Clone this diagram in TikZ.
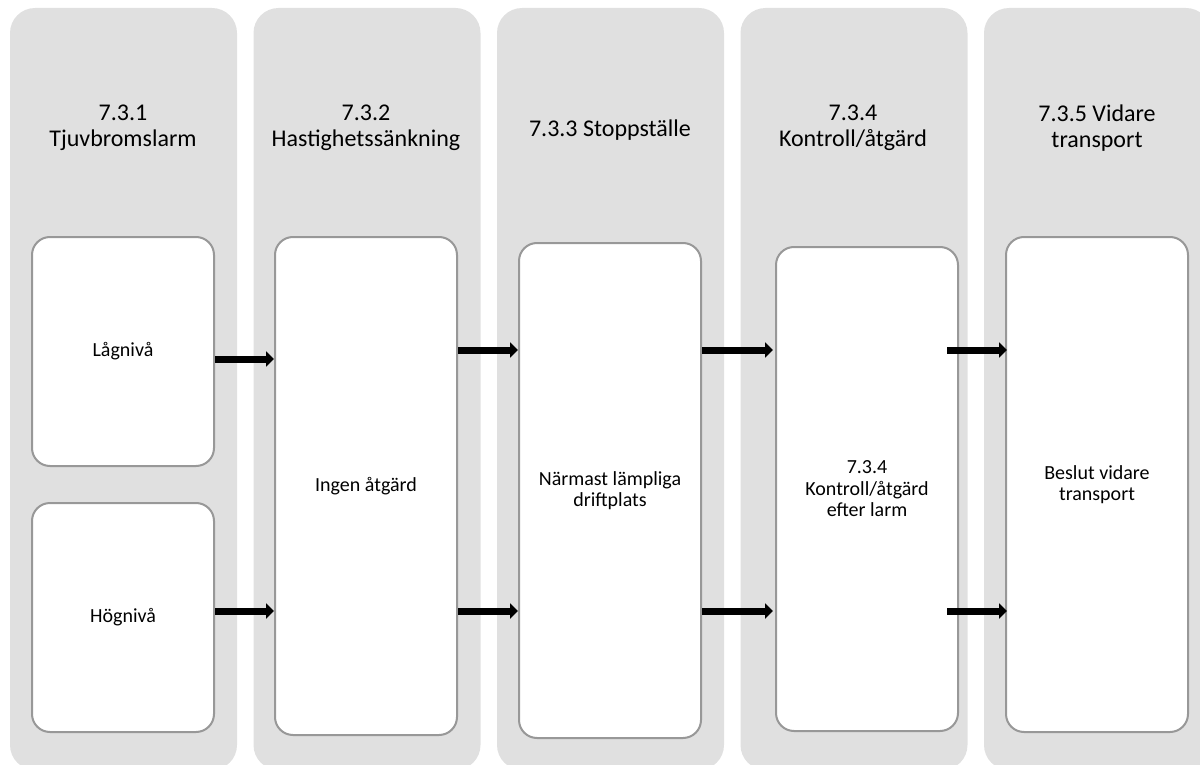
\documentclass[tikz,border=0pt]{standalone}
\usepackage{fontspec}
\setmainfont{Carlito}
\usetikzlibrary{arrows.meta}
\definecolor{lanegray}{HTML}{E0E0E0}
\definecolor{boxgray}{HTML}{989898}
\tikzset{
    lane/.style={fill=lanegray, rounded corners=25pt, minimum width=227pt, minimum height=762pt, inner sep=0pt},
    lanetitle/.style={align=center, font=\fontsize{24}{26.5}\selectfont},
    stepbox/.style={draw=boxgray, line width=2pt, fill=white, rounded corners=18pt, minimum width=182pt, inner sep=0pt, align=center, font=\fontsize{20}{21.5}\selectfont},
    flow/.style={line width=7pt, -{Triangle[length=8pt,width=15pt]}}
}
\begin{document}
\begin{tikzpicture}[x=1pt, y=-1pt]
                \useasboundingbox (0,0) rectangle (1200,765);

                \node[lane] (lane1) at (123.5,389) {};
                \node[lane] (lane2) at (367,389) {};
                \node[lane] (lane3) at (610.5,389) {};
                \node[lane] (lane4) at (854,389) {};
                \node[lane] (lane5) at (1097.5,389) {};

                \node[lanetitle] (t1) at (123,128) {7.3.1\\Tjuvbromslarm};
                \node[lanetitle] (t2) at (366,128) {7.3.2\\Hastighetssänkning};
                \node[lanetitle] (t3) at (610,130) {7.3.3 Stoppställe};
                \node[lanetitle] (t4) at (853,128) {7.3.4\\Kontroll/åtgärd};
                \node[lanetitle] (t5) at (1097,128) {7.3.5 Vidare\\transport};

                \node[stepbox, minimum height=229pt] (lo) at (123,351.5) {Lågnivå};
                \node[stepbox, minimum height=229pt] (hi) at (123,617.5) {Högnivå};
                \node[stepbox, minimum height=498pt] (ingen) at (366,486) {Ingen åtgärd};
                \node[stepbox, minimum height=495pt] (narm) at (610,490.5) {Närmast lämpliga\\driftplats};
                \node[stepbox, minimum height=484pt] (kontroll) at (867,489) {7.3.4\\Kontroll/åtgärd\\efter larm};
                \node[stepbox, minimum height=495pt] (beslut) at (1097,484.5) {Beslut vidare\\transport};

                \coordinate (up1) at (0,359);
                \coordinate (up) at (0,350);
                \coordinate (dn) at (0,611);

                \draw[flow] (lo.east |- up1) -- (ingen.west |- up1);
                \draw[flow] (hi.east |- dn) -- (ingen.west |- dn);
                \draw[flow] (ingen.east |- up) -- (narm.west |- up);
                \draw[flow] (ingen.east |- dn) -- (narm.west |- dn);
                \draw[flow] (narm.east |- up) -- ([xshift=-2pt]kontroll.west |- up);
                \draw[flow] (narm.east |- dn) -- ([xshift=-2pt]kontroll.west |- dn);
                \draw[flow] ([xshift=-12pt]kontroll.east |- up) -- ([xshift=2pt]beslut.west |- up);
                \draw[flow] ([xshift=-12pt]kontroll.east |- dn) -- ([xshift=2pt]beslut.west |- dn);
            \end{tikzpicture}
\end{document}
